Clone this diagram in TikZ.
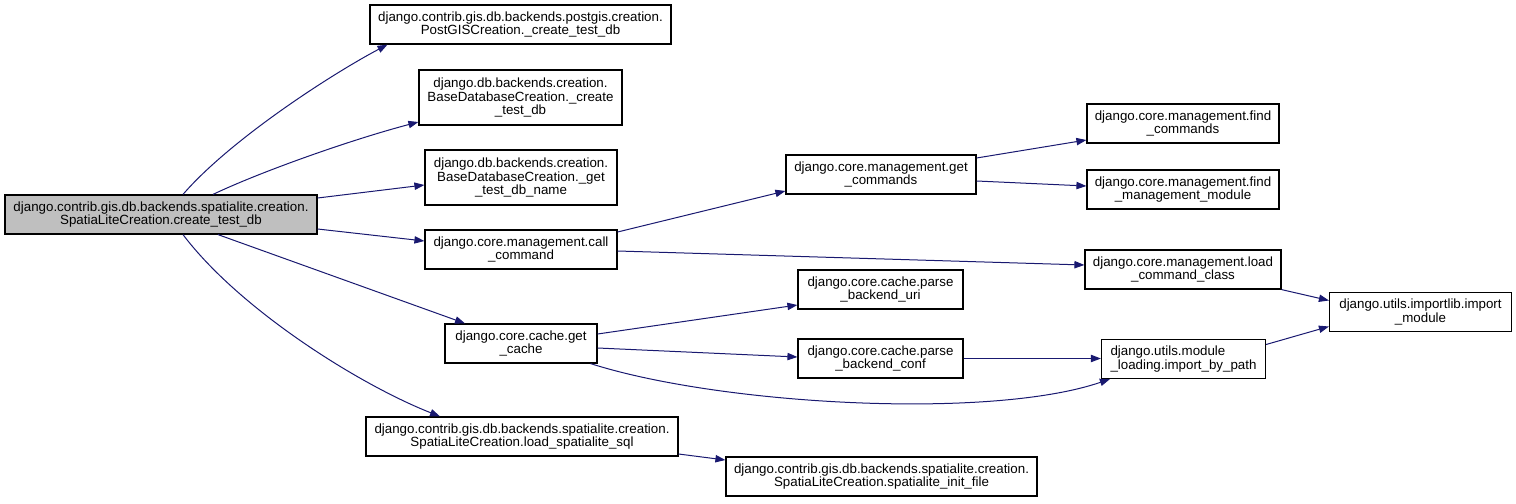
\documentclass[tikz,border=0pt]{standalone}
\usepackage{fontspec}
\setmainfont{Liberation Sans}
\usetikzlibrary{arrows.meta,calc}
\definecolor{edgeblue}{HTML}{191970}
\definecolor{rootgray}{HTML}{BFBFBF}
\tikzset{
  fn/.style 2 args={draw=black, line width=0.9pt, fill=white, rectangle, inner sep=0pt,
    minimum width=#1*0.75pt, minimum height=#2*0.75pt, align=center,
    font=\fontsize{10pt}{10pt}\selectfont},
  rootfn/.style={fill=rootgray},
  call/.style={draw=edgeblue, line width=0.75pt,
    -{Triangle[length=7.5pt,width=5.5pt]}, fill=none},
}
\begin{document}
\begin{tikzpicture}[x=0.75pt,y=-0.75pt]
\useasboundingbox (0,0) rectangle (1516,503);

\node[fn={312}{39},rootfn] (root) at (161,214.5) {django.contrib.gis.db.backends.spatialite.creation.\\SpatiaLiteCreation.create\_test\_db};
\node[fn={301}{39}] (pg) at (520.5,24.5) {django.contrib.gis.db.backends.postgis.creation.\\PostGISCreation.\_create\_test\_db};
\node[fn={203}{55}] (bdc) at (520.5,97.5) {django.db.backends.creation.\\BaseDatabaseCreation.\_create\\\_test\_db};
\node[fn={192}{55}] (bdn) at (521,177.5) {django.db.backends.creation.\\BaseDatabaseCreation.\_get\\\_test\_db\_name};
\node[fn={192}{39}] (cc) at (521,249.5) {django.core.management.call\\\_command};
\node[fn={152}{39}] (gc) at (521,343.5) {django.core.cache.get\\\_cache};
\node[fn={312}{39}] (lss) at (522,436.5) {django.contrib.gis.db.backends.spatialite.creation.\\SpatiaLiteCreation.load\_spatialite\_sql};
\node[fn={311}{39}] (sif) at (881.5,476.5) {django.contrib.gis.db.backends.spatialite.creation.\\SpatiaLiteCreation.spatialite\_init\_file};
\node[fn={190}{39}] (gcm) at (881,174.5) {django.core.management.get\\\_commands};
\node[fn={192}{39}] (fc) at (1183,123.5) {django.core.management.find\\\_commands};
\node[fn={192}{39}] (fmm) at (1183,189.5) {django.core.management.find\\\_management\_module};
\node[fn={196}{39}] (lcc) at (1183,269.5) {django.core.management.load\\\_command\_class};
\node[fn={165}{39}] (pbu) at (880.5,289.5) {django.core.cache.parse\\\_backend\_uri};
\node[fn={165}{39}] (pbc) at (880.5,358.5) {django.core.cache.parse\\\_backend\_conf};
\node[fn={164}{39},align=left] (ibp) at (1183.5,359) {django.utils.module\\\_loading.import\_by\_path};
\node[fn={182}{39}] (im) at (1420.5,312) {django.utils.importlib.import\\\_module};

% edges from root
\draw[call] ($(root.north)+(22,0)$) .. controls (230,140) and (330,75) .. ($(pg.south)+(-133,0)$);
\draw[call] ($(root.north)+(52,0)$) .. controls (260,172) and (350,140) .. ($(bdc.west)+(0,24.5)$);
\draw[call] ($(root.east)+(0,-16.5)$) -- ($(bdn.west)+(0,7.5)$);
\draw[call] ($(root.east)+(0,14.5)$) -- ($(cc.west)+(0,-8.5)$);
\draw[call] ($(root.south)+(57,0)$) -- ($(gc.north)+(-56,0)$);
\draw[call] ($(root.south)+(22,0)$) .. controls (240,310) and (360,385) .. ($(lss.north)+(-82,0)$);

% call_command
\draw[call] ($(cc.east)+(0,-17.5)$) -- ($(gcm.west)+(0,16.5)$);
\draw[call] ($(cc.east)+(0,1.5)$) -- ($(lcc.west)+(0,-4.5)$);

% get_commands
\draw[call] ($(gcm.east)+(0,-16.5)$) -- ($(fc.west)+(0,16.5)$);
\draw[call] ($(gcm.east)+(0,6.5)$) -- ($(fmm.west)+(0,-3.5)$);

% get_cache
\draw[call] ($(gc.east)+(0,-9.5)$) -- ($(pbu.west)+(0,15.5)$);
\draw[call] ($(gc.east)+(0,4.5)$) -- ($(pbc.west)+(0,-1.5)$);
\draw[call] ($(gc.south east)+(-7,0)$) .. controls (720,405) and (990,420) .. ($(ibp.south west)+(9,0)$);

% others
\draw[call] (pbc.east) -- (ibp.west |- pbc.east);
\draw[call] (lcc.south east) -- ($(im.west)+(0,-11.5)$);
\draw[call] ($(ibp.east)+(0,-14.5)$) -- ($(im.west)+(0,14.5)$);
\draw[call] ($(lss.east)+(0,17.5)$) -- ($(sif.west)+(0,-16.5)$);
\end{tikzpicture}
\end{document}
